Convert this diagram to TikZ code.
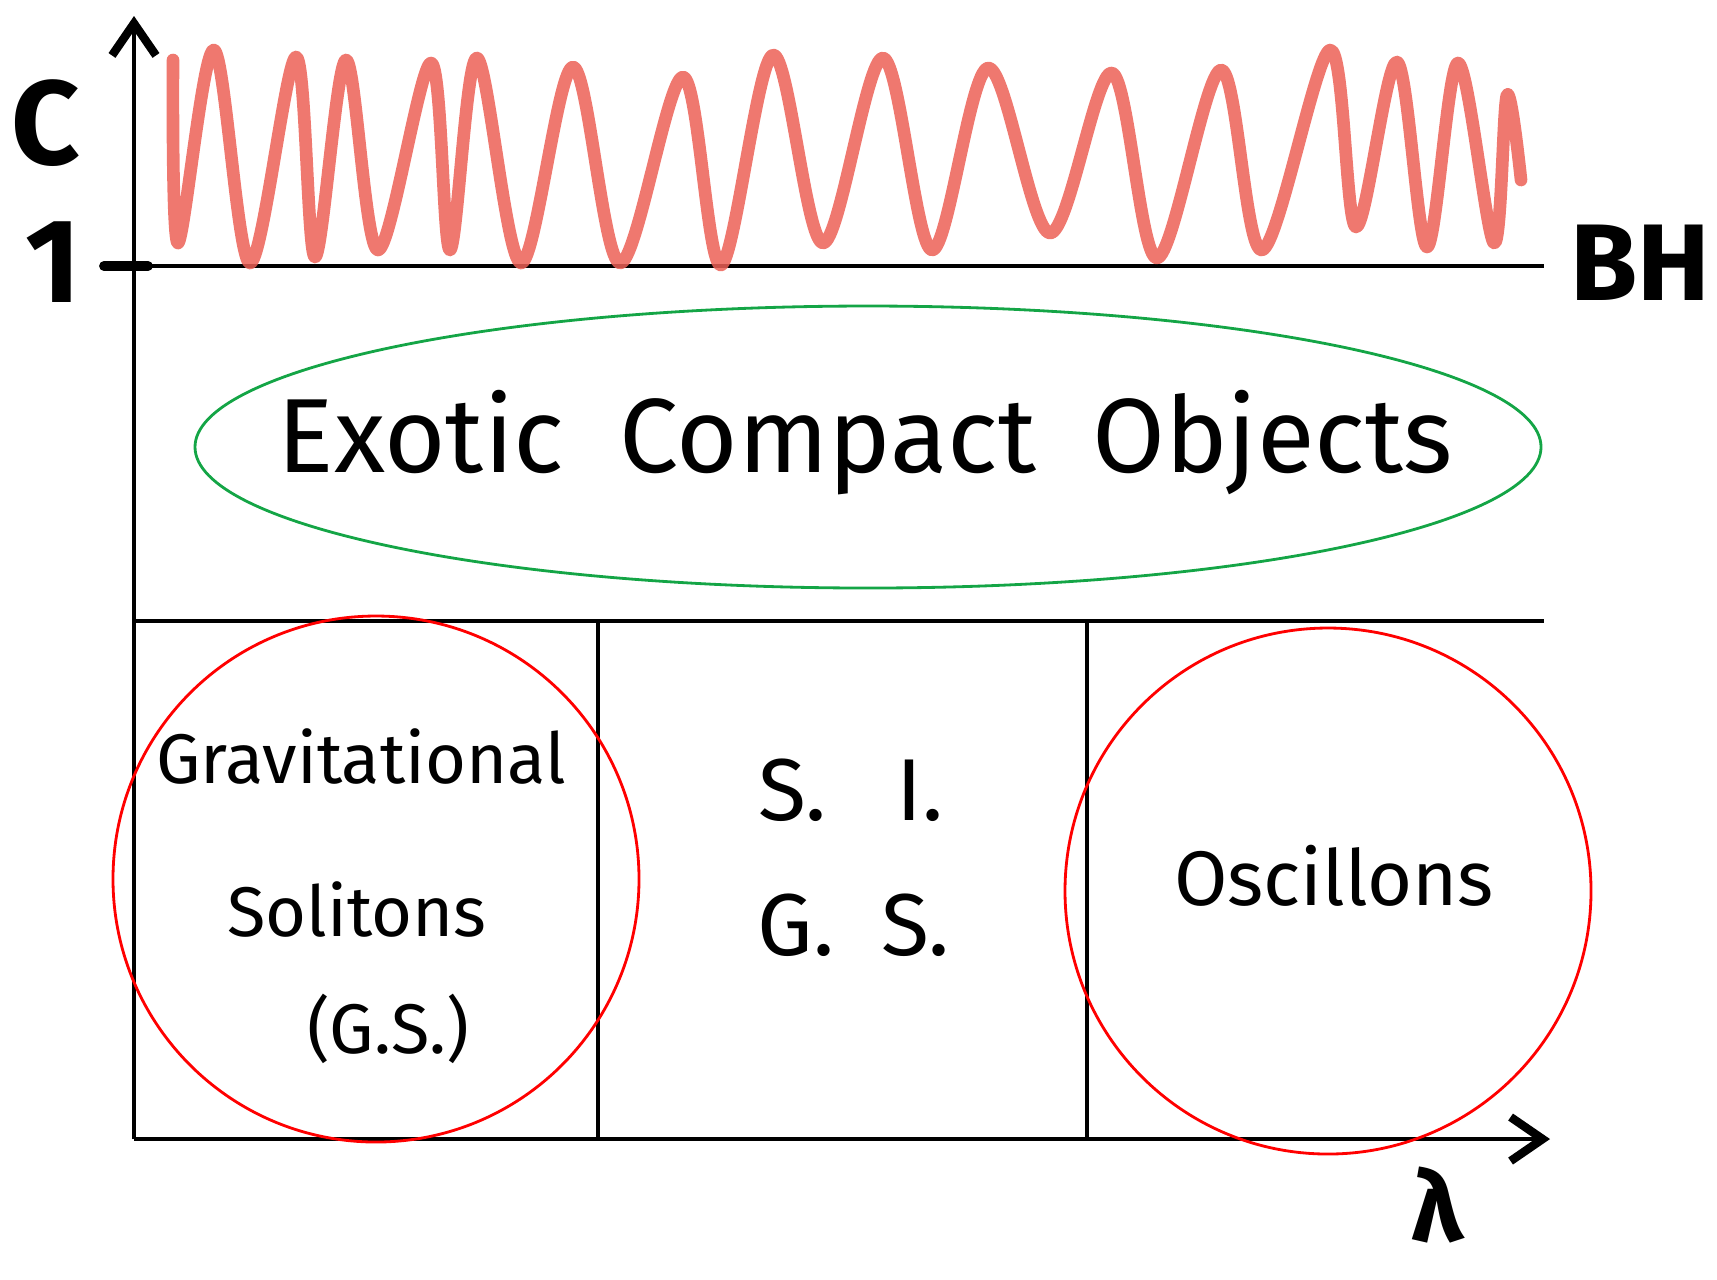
\documentclass[tikz,border=0pt]{standalone}
\usepackage{fontspec}
\setmainfont{Fira Sans}
\usetikzlibrary{arrows.meta}
\definecolor{wavered}{RGB}{236,96,86}
\definecolor{ecogreen}{RGB}{20,165,70}
\tikzset{
  axisline/.style={line width=1.3pt,black},
  axistip/.style={-{Straight Barb[length=3.2mm,width=4.4mm,line width=2.4pt]}},
  regionline/.style={line width=1.1pt,black},
  handlabel/.style={font=\fontsize{20}{24}\selectfont,inner sep=0pt},
  midlabel/.style={font=\fontsize{25}{30}\selectfont,inner sep=0pt},
  ecolabel/.style={font=\fontsize{30}{36}\selectfont,inner sep=0pt},
  biglabel/.style={font=\fontsize{34}{40}\selectfont\bfseries,inner sep=0pt},
}

\begin{document}
\begin{tikzpicture}[x=0.1mm,y=-0.1mm]
    \useasboundingbox (0,0) rectangle (1717,1279);
    % Akser
    \coordinate (O) at (134,1139);
    \coordinate (ytop) at (134,16);
    \coordinate (xend) at (1550,1139);
    \draw[axisline,axistip] (O) -- (ytop);
    \draw[axisline,axistip] (O) -- (xend);
    % BH-linje og tick ved 1
    \coordinate (tick) at (104,266);
    \coordinate (bhend) at (1544,266);
    \draw[axisline] (tick) -- (bhend);
    \draw[line width=2.8pt,line cap=round] (tick) -- (148,266);
    % Skillelinjer
    \coordinate (midl) at (134,621);
    \coordinate (midr) at (1544,621);
    \draw[regionline] (midl) -- (midr);
    \draw[regionline] (598,621) -- (598,1139);
    \draw[regionline] (1087,621) -- (1087,1139);
    % Boelgen over BH
    \draw[wavered,opacity=0.85,line width=3.6pt,line cap=round,line join=round]
      plot[smooth,tension=0.55] coordinates {
        (173,60) (178,243) (214,50) (250,263) (296,57) (315,257) (346,60)
        (378,250) (431,63) (450,250) (477,58) (521,263) (573,67) (620,263)
        (683,77) (721,265) (773,55) (823,243) (883,58) (932,250) (988,68)
        (1050,233) (1112,73) (1157,258) (1221,70) (1262,250) (1330,50)
        (1356,227) (1397,62) (1427,247) (1458,63) (1494,243) (1507,95)
        (1521,180)};
    % Ellipse og cirkler
    \draw[ecogreen,line width=0.8pt] (868,447) ellipse (673 and 141);
    \draw[red,line width=0.8pt] (376,879) circle (263);
    \draw[red,line width=0.8pt] (1328,891) circle (263);
    % Tekster
    \node[ecolabel] (eco) at (865,443) {Exotic\ \ Compact\ \ Objects};
    \node[handlabel] (grav) at (361,756) {Gravitational};
    \node[handlabel] (sol) at (357,909) {Solitons};
    \node[handlabel] (gsone) at (388,1029) {(G.S.)};
    \node[midlabel] (si) at (851,790) {S.\ \ \ I.\ };
    \node[midlabel] (gstwo) at (854,925) {G.\ \ S.\ };
    \node[handlabel,font=\fontsize{22}{26}\selectfont] (osc) at (1334,876) {Oscillons};
    \node[biglabel] (clabel) at (46,123) {C};
    \node[biglabel] (onelabel) at (53,262) {1};
    \node[biglabel,font=\fontsize{31}{36}\selectfont\bfseries] (bhlabel) at (1640,263) {BH};
    \node[biglabel,font=\fontsize{28}{32}\selectfont\bfseries] (lamlabel) at (1437,1205) {λ};
\end{tikzpicture}
\end{document}
